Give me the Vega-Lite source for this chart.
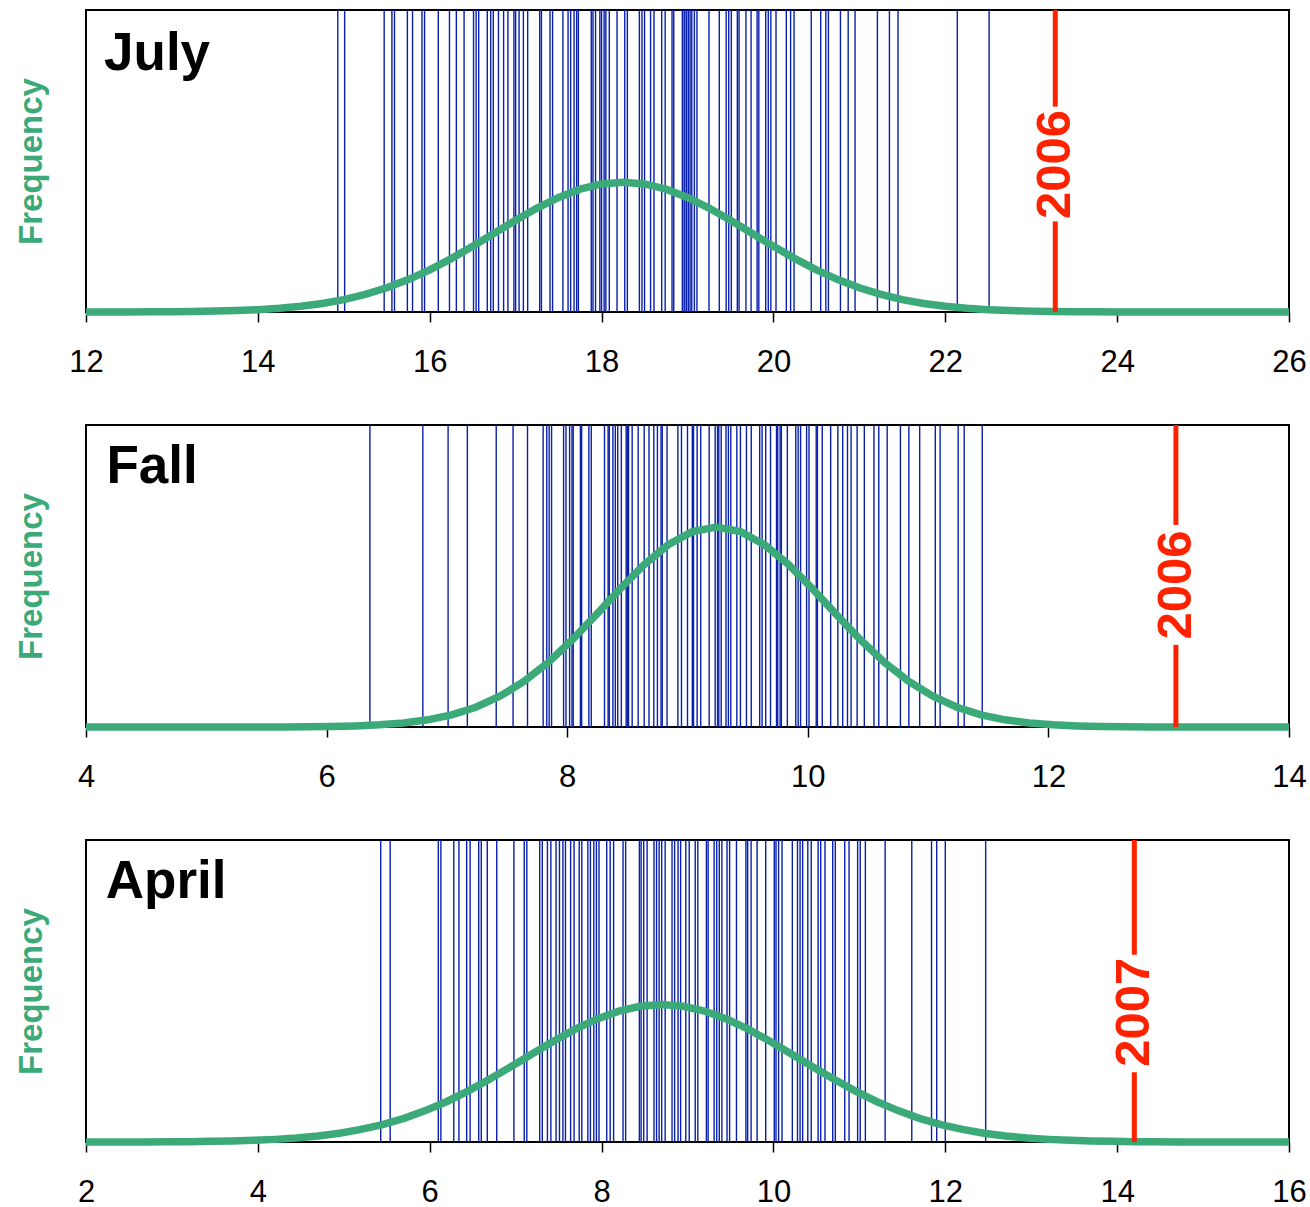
{
  "$schema": "https://vega.github.io/schema/vega-lite/v6.json",
  "padding": {"left": 14, "top": 6, "right": 0, "bottom": 0},
  "background": "white",
  "spacing": 43,
  "config": {
    "view": {"stroke": "black", "strokeWidth": 2},
    "font": "Liberation Sans",
    "axis": {"grid": false, "labelFont": "Liberation Sans", "titleFont": "Liberation Sans"},
    "axisX": {"domain": false, "tickColor": "black", "tickSize": 10, "tickWidth": 1.5, "labelFontSize": 31, "labelColor": "black", "labelPadding": 25, "labelFlush": false, "labelOverlap": false, "labelBound": false, "format": "d"},
    "axisY": {"domain": false, "ticks": false, "labels": false, "titleColor": "#3CAA78", "titleFontSize": 33, "titleFontWeight": "bold", "titlePadding": 38}
  },
  "datasets": {
    "july_obs": [{"v":14.93},{"v":15.01},{"v":15.47},{"v":15.56},{"v":15.59},{"v":15.74},{"v":15.80},{"v":15.91},{"v":15.94},{"v":16.10},{"v":16.23},{"v":16.31},{"v":16.40},{"v":16.51},{"v":16.54},{"v":16.57},{"v":16.67},{"v":16.71},{"v":16.74},{"v":16.80},{"v":16.86},{"v":16.91},{"v":16.98},{"v":17.00},{"v":17.04},{"v":17.09},{"v":17.14},{"v":17.28},{"v":17.30},{"v":17.40},{"v":17.43},{"v":17.55},{"v":17.61},{"v":17.64},{"v":17.68},{"v":17.71},{"v":17.73},{"v":17.88},{"v":17.90},{"v":17.93},{"v":17.98},{"v":18.00},{"v":18.03},{"v":18.05},{"v":18.09},{"v":18.18},{"v":18.27},{"v":18.30},{"v":18.44},{"v":18.47},{"v":18.50},{"v":18.57},{"v":18.61},{"v":18.70},{"v":18.74},{"v":18.82},{"v":18.84},{"v":18.94},{"v":18.96},{"v":18.97},{"v":18.99},{"v":19.01},{"v":19.03},{"v":19.05},{"v":19.08},{"v":19.11},{"v":19.25},{"v":19.37},{"v":19.45},{"v":19.48},{"v":19.51},{"v":19.58},{"v":19.60},{"v":19.68},{"v":19.74},{"v":19.81},{"v":19.83},{"v":19.91},{"v":19.94},{"v":19.97},{"v":20.03},{"v":20.15},{"v":20.20},{"v":20.24},{"v":20.44},{"v":20.55},{"v":20.61},{"v":20.64},{"v":20.78},{"v":20.87},{"v":20.95},{"v":21.21},{"v":21.35},{"v":21.45},{"v":22.14},{"v":22.51}],
    "july_curve": [{"x":12,"y":0.0001},{"x":12.25,"y":0.0001},{"x":12.5,"y":0.0003},{"x":12.75,"y":0.0005},{"x":13,"y":0.0009},{"x":13.25,"y":0.0017},{"x":13.5,"y":0.0029},{"x":13.75,"y":0.0048},{"x":14,"y":0.0078},{"x":14.25,"y":0.0123},{"x":14.5,"y":0.0189},{"x":14.75,"y":0.0283},{"x":15,"y":0.0411},{"x":15.25,"y":0.0582},{"x":15.5,"y":0.0801},{"x":15.75,"y":0.1072},{"x":16,"y":0.1396},{"x":16.25,"y":0.1768},{"x":16.5,"y":0.2177},{"x":16.75,"y":0.2608},{"x":17,"y":0.3038},{"x":17.25,"y":0.3443},{"x":17.5,"y":0.3795},{"x":17.75,"y":0.4068},{"x":18,"y":0.4241},{"x":18.25,"y":0.43},{"x":18.5,"y":0.4241},{"x":18.75,"y":0.4068},{"x":19,"y":0.3795},{"x":19.25,"y":0.3443},{"x":19.5,"y":0.3038},{"x":19.75,"y":0.2608},{"x":20,"y":0.2177},{"x":20.25,"y":0.1768},{"x":20.5,"y":0.1396},{"x":20.75,"y":0.1072},{"x":21,"y":0.0801},{"x":21.25,"y":0.0582},{"x":21.5,"y":0.0411},{"x":21.75,"y":0.0283},{"x":22,"y":0.0189},{"x":22.25,"y":0.0123},{"x":22.5,"y":0.0078},{"x":22.75,"y":0.0048},{"x":23,"y":0.0029},{"x":23.25,"y":0.0017},{"x":23.5,"y":0.0009},{"x":23.75,"y":0.0005},{"x":24,"y":0.0003},{"x":24.25,"y":0.0001},{"x":24.5,"y":0.0001},{"x":25,"y":0},{"x":26,"y":0}],
    "july_red": [{"x":23.28,"year":"2006"}],
    "fall_obs": [{"v":6.36},{"v":6.80},{"v":7.01},{"v":7.17},{"v":7.41},{"v":7.55},{"v":7.67},{"v":7.80},{"v":7.83},{"v":7.85},{"v":7.87},{"v":7.97},{"v":7.99},{"v":8.02},{"v":8.04},{"v":8.05},{"v":8.11},{"v":8.12},{"v":8.18},{"v":8.20},{"v":8.31},{"v":8.34},{"v":8.35},{"v":8.38},{"v":8.40},{"v":8.42},{"v":8.45},{"v":8.49},{"v":8.50},{"v":8.51},{"v":8.54},{"v":8.59},{"v":8.64},{"v":8.68},{"v":8.72},{"v":8.75},{"v":8.78},{"v":8.79},{"v":8.83},{"v":8.92},{"v":8.95},{"v":9.00},{"v":9.04},{"v":9.05},{"v":9.08},{"v":9.11},{"v":9.18},{"v":9.23},{"v":9.25},{"v":9.26},{"v":9.28},{"v":9.32},{"v":9.34},{"v":9.36},{"v":9.41},{"v":9.44},{"v":9.49},{"v":9.53},{"v":9.60},{"v":9.62},{"v":9.65},{"v":9.69},{"v":9.74},{"v":9.75},{"v":9.77},{"v":9.78},{"v":9.83},{"v":9.90},{"v":9.92},{"v":9.94},{"v":9.99},{"v":10.01},{"v":10.07},{"v":10.08},{"v":10.12},{"v":10.19},{"v":10.25},{"v":10.29},{"v":10.33},{"v":10.36},{"v":10.41},{"v":10.47},{"v":10.55},{"v":10.59},{"v":10.66},{"v":10.77},{"v":10.84},{"v":10.93},{"v":11.06},{"v":11.10},{"v":11.25},{"v":11.30},{"v":11.45}],
    "fall_curve": [{"x":4,"y":0},{"x":5.24,"y":0.0001},{"x":5.44,"y":0.0002},{"x":5.64,"y":0.0004},{"x":5.84,"y":0.0008},{"x":6.04,"y":0.0018},{"x":6.24,"y":0.0036},{"x":6.44,"y":0.0071},{"x":6.64,"y":0.0133},{"x":6.84,"y":0.0237},{"x":7.04,"y":0.0403},{"x":7.24,"y":0.0655},{"x":7.44,"y":0.1017},{"x":7.64,"y":0.1507},{"x":7.84,"y":0.2132},{"x":8.04,"y":0.2880},{"x":8.24,"y":0.3714},{"x":8.44,"y":0.4572},{"x":8.64,"y":0.5376},{"x":8.84,"y":0.6035},{"x":9.04,"y":0.6468},{"x":9.24,"y":0.662},{"x":9.44,"y":0.6468},{"x":9.64,"y":0.6035},{"x":9.84,"y":0.5376},{"x":10.04,"y":0.4572},{"x":10.24,"y":0.3714},{"x":10.44,"y":0.2880},{"x":10.64,"y":0.2132},{"x":10.84,"y":0.1507},{"x":11.04,"y":0.1017},{"x":11.24,"y":0.0655},{"x":11.44,"y":0.0403},{"x":11.64,"y":0.0237},{"x":11.84,"y":0.0133},{"x":12.04,"y":0.0071},{"x":12.24,"y":0.0036},{"x":12.44,"y":0.0018},{"x":12.64,"y":0.0008},{"x":12.84,"y":0.0004},{"x":13.04,"y":0.0002},{"x":13.24,"y":0.0001},{"x":14,"y":0}],
    "fall_red": [{"x":13.06,"year":"2006"}],
    "april_obs": [{"v":5.43},{"v":5.54},{"v":6.10},{"v":6.13},{"v":6.28},{"v":6.34},{"v":6.43},{"v":6.47},{"v":6.57},{"v":6.60},{"v":6.67},{"v":6.78},{"v":6.98},{"v":7.10},{"v":7.13},{"v":7.28},{"v":7.31},{"v":7.37},{"v":7.41},{"v":7.47},{"v":7.51},{"v":7.55},{"v":7.58},{"v":7.64},{"v":7.68},{"v":7.74},{"v":7.77},{"v":7.84},{"v":7.87},{"v":7.91},{"v":7.94},{"v":7.97},{"v":8.06},{"v":8.10},{"v":8.14},{"v":8.25},{"v":8.28},{"v":8.44},{"v":8.46},{"v":8.49},{"v":8.53},{"v":8.61},{"v":8.64},{"v":8.67},{"v":8.70},{"v":8.74},{"v":8.82},{"v":8.85},{"v":8.89},{"v":8.92},{"v":8.98},{"v":9.02},{"v":9.09},{"v":9.12},{"v":9.22},{"v":9.24},{"v":9.31},{"v":9.34},{"v":9.37},{"v":9.40},{"v":9.46},{"v":9.49},{"v":9.57},{"v":9.68},{"v":9.70},{"v":9.74},{"v":9.81},{"v":9.91},{"v":10.01},{"v":10.03},{"v":10.06},{"v":10.10},{"v":10.22},{"v":10.28},{"v":10.31},{"v":10.34},{"v":10.40},{"v":10.44},{"v":10.52},{"v":10.55},{"v":10.60},{"v":10.69},{"v":10.72},{"v":10.83},{"v":10.88},{"v":10.98},{"v":11.01},{"v":11.07},{"v":11.30},{"v":11.61},{"v":11.84},{"v":11.90},{"v":12.00},{"v":12.47}],
    "april_curve": [{"x":2,"y":0},{"x":2.2,"y":0.0001},{"x":2.45,"y":0.0002},{"x":2.7,"y":0.0004},{"x":2.95,"y":0.0007},{"x":3.2,"y":0.0012},{"x":3.45,"y":0.0021},{"x":3.7,"y":0.0034},{"x":3.95,"y":0.0055},{"x":4.2,"y":0.0087},{"x":4.45,"y":0.0134},{"x":4.7,"y":0.0200},{"x":4.95,"y":0.0292},{"x":5.2,"y":0.0416},{"x":5.45,"y":0.0578},{"x":5.7,"y":0.0784},{"x":5.95,"y":0.1039},{"x":6.2,"y":0.1342},{"x":6.45,"y":0.1693},{"x":6.7,"y":0.2083},{"x":6.95,"y":0.2502},{"x":7.2,"y":0.2932},{"x":7.45,"y":0.3353},{"x":7.7,"y":0.3743},{"x":7.95,"y":0.4077},{"x":8.2,"y":0.4333},{"x":8.45,"y":0.4495},{"x":8.7,"y":0.455},{"x":8.95,"y":0.4495},{"x":9.2,"y":0.4333},{"x":9.45,"y":0.4077},{"x":9.7,"y":0.3743},{"x":9.95,"y":0.3353},{"x":10.2,"y":0.2932},{"x":10.45,"y":0.2502},{"x":10.7,"y":0.2083},{"x":10.95,"y":0.1693},{"x":11.2,"y":0.1342},{"x":11.45,"y":0.1039},{"x":11.7,"y":0.0784},{"x":11.95,"y":0.0578},{"x":12.2,"y":0.0416},{"x":12.45,"y":0.0292},{"x":12.7,"y":0.0200},{"x":12.95,"y":0.0134},{"x":13.2,"y":0.0087},{"x":13.45,"y":0.0055},{"x":13.7,"y":0.0034},{"x":13.95,"y":0.0021},{"x":14.2,"y":0.0012},{"x":14.45,"y":0.0007},{"x":14.7,"y":0.0004},{"x":14.95,"y":0.0002},{"x":15.2,"y":0.0001},{"x":16,"y":0}],
    "april_red": [{"x":14.2,"year":"2007"}]
  },
  "vconcat": [
    {
      "width": 1203, "height": 302,
      "layer": [
        {"data": {"name": "july_obs"}, "mark": {"type": "rule", "color": "#0A20A8", "strokeWidth": 1.4}, "encoding": {"x": {"field": "v", "type": "quantitative", "scale": {"domain": [12, 26], "nice": false, "zero": false}, "axis": {"title": null, "values": [12,14,16,18,20,22,24,26]}}}},
        {"data": {"name": "july_curve"}, "mark": {"type": "line", "color": "#3CAA78", "strokeWidth": 7.5, "strokeCap": "butt"}, "encoding": {"x": {"field": "x", "type": "quantitative"}, "y": {"field": "y", "type": "quantitative", "scale": {"domain": [0, 1], "nice": false}, "axis": {"title": "Frequency"}}}},
        {"data": {"name": "july_red"}, "mark": {"type": "rule", "color": "#FF2200", "strokeWidth": 5}, "encoding": {"x": {"field": "x", "type": "quantitative"}, "y": {"datum": 0}, "y2": {"datum": 0.3}}},
        {"data": {"name": "july_red"}, "mark": {"type": "rule", "color": "#FF2200", "strokeWidth": 5}, "encoding": {"x": {"field": "x", "type": "quantitative"}, "y": {"datum": 0.68}, "y2": {"datum": 1}}},
        {"data": {"name": "july_red"}, "mark": {"type": "text", "angle": 270, "color": "#FF2200", "fontWeight": "bold", "fontSize": 49, "align": "center", "baseline": "middle"}, "encoding": {"x": {"field": "x", "type": "quantitative"}, "y": {"datum": 0.488}, "text": {"field": "year"}}},
        {"data": {"values": [{"name": "July"}]}, "mark": {"type": "text", "color": "black", "fontWeight": "bold", "fontSize": 53, "align": "left", "baseline": "alphabetic"}, "encoding": {"x": {"datum": 12.21}, "y": {"datum": 0.801}, "text": {"field": "name"}}}
      ]
    },
    {
      "width": 1203, "height": 302,
      "layer": [
        {"data": {"name": "fall_obs"}, "mark": {"type": "rule", "color": "#0A20A8", "strokeWidth": 1.4}, "encoding": {"x": {"field": "v", "type": "quantitative", "scale": {"domain": [4, 14], "nice": false, "zero": false}, "axis": {"title": null, "values": [4,6,8,10,12,14]}}}},
        {"data": {"name": "fall_curve"}, "mark": {"type": "line", "color": "#3CAA78", "strokeWidth": 7.5, "strokeCap": "butt"}, "encoding": {"x": {"field": "x", "type": "quantitative"}, "y": {"field": "y", "type": "quantitative", "scale": {"domain": [0, 1], "nice": false}, "axis": {"title": "Frequency"}}}},
        {"data": {"name": "fall_red"}, "mark": {"type": "rule", "color": "#FF2200", "strokeWidth": 5}, "encoding": {"x": {"field": "x", "type": "quantitative"}, "y": {"datum": 0}, "y2": {"datum": 0.272}}},
        {"data": {"name": "fall_red"}, "mark": {"type": "rule", "color": "#FF2200", "strokeWidth": 5}, "encoding": {"x": {"field": "x", "type": "quantitative"}, "y": {"datum": 0.669}, "y2": {"datum": 1}}},
        {"data": {"name": "fall_red"}, "mark": {"type": "text", "angle": 270, "color": "#FF2200", "fontWeight": "bold", "fontSize": 49, "align": "center", "baseline": "middle"}, "encoding": {"x": {"field": "x", "type": "quantitative"}, "y": {"datum": 0.47}, "text": {"field": "year"}}},
        {"data": {"values": [{"name": "Fall"}]}, "mark": {"type": "text", "color": "black", "fontWeight": "bold", "fontSize": 53, "align": "left", "baseline": "alphabetic"}, "encoding": {"x": {"datum": 4.17}, "y": {"datum": 0.808}, "text": {"field": "name"}}}
      ]
    },
    {
      "width": 1203, "height": 302,
      "layer": [
        {"data": {"name": "april_obs"}, "mark": {"type": "rule", "color": "#0A20A8", "strokeWidth": 1.4}, "encoding": {"x": {"field": "v", "type": "quantitative", "scale": {"domain": [2, 16], "nice": false, "zero": false}, "axis": {"title": null, "values": [2,4,6,8,10,12,14,16]}}}},
        {"data": {"name": "april_curve"}, "mark": {"type": "line", "color": "#3CAA78", "strokeWidth": 7.5, "strokeCap": "butt"}, "encoding": {"x": {"field": "x", "type": "quantitative"}, "y": {"field": "y", "type": "quantitative", "scale": {"domain": [0, 1], "nice": false}, "axis": {"title": "Frequency"}}}},
        {"data": {"name": "april_red"}, "mark": {"type": "rule", "color": "#FF2200", "strokeWidth": 5}, "encoding": {"x": {"field": "x", "type": "quantitative"}, "y": {"datum": 0}, "y2": {"datum": 0.231}}},
        {"data": {"name": "april_red"}, "mark": {"type": "rule", "color": "#FF2200", "strokeWidth": 5}, "encoding": {"x": {"field": "x", "type": "quantitative"}, "y": {"datum": 0.62}, "y2": {"datum": 1}}},
        {"data": {"name": "april_red"}, "mark": {"type": "text", "angle": 270, "color": "#FF2200", "fontWeight": "bold", "fontSize": 49, "align": "center", "baseline": "middle"}, "encoding": {"x": {"field": "x", "type": "quantitative"}, "y": {"datum": 0.43}, "text": {"field": "year"}}},
        {"data": {"values": [{"name": "April"}]}, "mark": {"type": "text", "color": "black", "fontWeight": "bold", "fontSize": 53, "align": "left", "baseline": "alphabetic"}, "encoding": {"x": {"datum": 2.23}, "y": {"datum": 0.809}, "text": {"field": "name"}}}
      ]
    }
  ]
}
